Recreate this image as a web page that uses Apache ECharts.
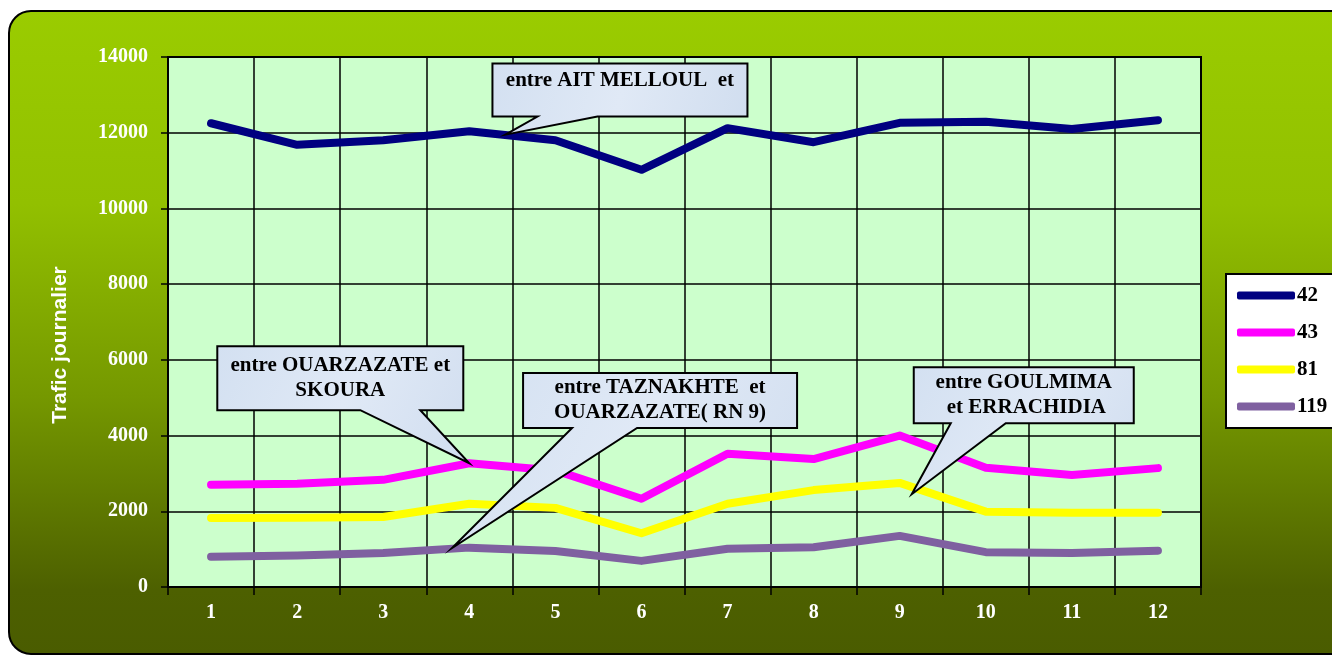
<!DOCTYPE html>
<html>
<head>
<meta charset="utf-8">
<script src="https://cdn.jsdelivr.net/npm/echarts@6/dist/echarts.min.js"></script>
<style>
html,body{margin:0;padding:0;background:#ffffff;}
#chart{width:1332px;height:655px;}
</style>
</head>
<body>
<div id="chart"></div>
<script>
// ---- data ----
var categories = ['1','2','3','4','5','6','7','8','9','10','11','12'];
var seriesNames = ['42','43','81','119'];
var s42  = [12250, 11680, 11800, 12040, 11800, 11020, 12120, 11750, 12260, 12290, 12100, 12330];
var s43  = [2700, 2730, 2830, 3270, 3080, 2330, 3520, 3380, 4000, 3150, 2960, 3140];
var s81  = [1820, 1830, 1850, 2200, 2090, 1420, 2200, 2560, 2750, 1990, 1960, 1960];
var s119 = [800, 830, 900, 1040, 950, 690, 1010, 1050, 1350, 920, 900, 960];
var yTicks = [0, 2000, 4000, 6000, 8000, 10000, 12000, 14000];
var axisTitle = 'Trafic journalier';
// callouts: text and anchor (fractional category index, value)
var calloutTexts = ['entre AIT MELLOUL  et', 'entre OUARZAZATE et\nSKOURA', 'entre TAZNAKHTE  et\nOUARZAZATE( RN 9)', 'entre GOULMIMA\n et ERRACHIDIA'];
var calloutAnchors = [[3.42, 11950], [3, 3270], [2.8, 1030], [8.14, 2450]];

var colors = ['#000080', '#ff00ff', '#ffff00', '#7f60a0'];
var values = [s42, s43, s81, s119];
var serif = '"Times New Roman", "Liberation Serif", serif';
var sans = 'Arial, "Liberation Sans", sans-serif';

var chart = echarts.init(document.getElementById('chart'), null, {renderer: 'canvas'});

var bgGraphic = {
  type: 'rect', id: 'bg', z: -10, silent: true,
  shape: {x: 9, y: 11, width: 1345, height: 643, r: 22},
  style: {
    fill: new echarts.graphic.LinearGradient(0, 0, 0, 1, [
      {offset: 0, color: '#9acc00'},
      {offset: 0.3, color: '#92c000'},
      {offset: 0.6, color: '#759800'},
      {offset: 0.9, color: '#4d6000'},
      {offset: 1, color: '#4a5c00'}
    ]),
    stroke: '#000', lineWidth: 2
  }
};

var option = {
  animation: false,
  backgroundColor: '#ffffff',
  grid: {left: 168, right: 131, top: 57, bottom: 68, show: true, backgroundColor: '#ccffcc', borderColor: '#000', borderWidth: 2},
  legend: {
    data: seriesNames, orient: 'vertical', left: 1226, top: 274,
    backgroundColor: '#ffffff', borderColor: '#000', borderWidth: 2,
    padding: [11, 40, 11, 11], itemGap: 16,
    itemWidth: 58, itemHeight: 8, icon: 'roundRect',
    textStyle: {color: '#000', fontFamily: serif, fontWeight: 'bold', fontSize: 21, padding: [0,0,0,-3]}
  },
  xAxis: {
    type: 'category', data: categories, boundaryGap: true,
    axisLine: {lineStyle: {color: '#000', width: 2}},
    axisTick: {show: true, length: 8, alignWithLabel: false, lineStyle: {color: '#000', width: 1.5}},
    axisLabel: {color: '#fff', fontFamily: serif, fontWeight: 'bold', fontSize: 20, margin: 16},
    splitLine: {show: true, lineStyle: {color: '#000', width: 1.5}}
  },
  yAxis: {
    type: 'value', min: 0, max: 14000, interval: 2000,
    name: axisTitle, nameLocation: 'middle', nameGap: 97,
    nameTextStyle: {color: '#fff', fontFamily: sans, fontWeight: 'bold', fontSize: 21, padding: [0, 0, 0, -46]},
    axisLine: {show: true, lineStyle: {color: '#000', width: 2}},
    axisTick: {show: true, length: 7, lineStyle: {color: '#000', width: 1.5}},
    axisLabel: {color: '#fff', fontFamily: serif, fontWeight: 'bold', fontSize: 20, margin: 20,
      formatter: function (v) { return String(v); }},
    splitLine: {show: true, lineStyle: {color: '#000', width: 1.5}}
  },
  series: seriesNames.map(function (n, i) {
    return {
      name: n, type: 'line', data: values[i], showSymbol: false, symbol: 'none',
      color: colors[i],
      lineStyle: {color: colors[i], width: 8, cap: 'round', join: 'round'},
      z: 3 + (3 - i)
    };
  }),
  graphic: [bgGraphic]
};
chart.setOption(option);

function toPx(idx, val) {
  var i0 = Math.floor(idx), i1 = Math.min(i0 + 1, categories.length - 1);
  var p0 = chart.convertToPixel({gridIndex: 0}, [i0, val]);
  var p1 = chart.convertToPixel({gridIndex: 0}, [i1, val]);
  var f = idx - i0;
  return [p0[0] + (p1[0] - p0[0]) * f, p0[1]];
}

// box geometry relative to tip: [dxLeft, dyTop, width, height, tailL, tailR] (pixels)
var boxGeom = [
  [-13, -71, 255, 53, 32, 92],
  [-252, -117, 246, 64, -109, -49],
  [71, -175, 274, 55, 120, 185],
  [2, -127, 220, 56, 39, 94]
];
var lineCounts = calloutTexts.map(function (t) { return t.split('\n').length; });

var graphics = [bgGraphic];
calloutTexts.forEach(function (txt, k) {
  var tip = toPx(calloutAnchors[k][0], calloutAnchors[k][1]);
  var g = boxGeom[k];
  var L = tip[0] + g[0], T = tip[1] + g[1], R = L + g[2], B = T + g[3];
  var pts = [[L, T], [R, T], [R, B], [tip[0] + g[5], B], [tip[0], tip[1]], [tip[0] + g[4], B], [L, B]];
  graphics.push({
    type: 'polygon', z: 100, silent: true,
    shape: {points: pts},
    style: {
      fill: new echarts.graphic.LinearGradient(0, 0, 1, 1, [
        {offset: 0, color: '#d3e0f1'}, {offset: 0.5, color: '#e0e9f6'}, {offset: 1, color: '#d0ddef'}
      ]),
      stroke: '#000', lineWidth: 2
    }
  });
  var cy = lineCounts[k] === 1 ? T + 17 : (T + B) / 2;
  graphics.push({
    type: 'text', z: 101, silent: true,
    x: (L + R) / 2, y: cy,
    style: {
      text: txt, fill: '#000', font: 'bold 21px ' + serif,
      textAlign: 'center', textVerticalAlign: 'middle', lineHeight: 25
    }
  });
});
chart.setOption({graphic: graphics}, {replaceMerge: ['graphic']});
</script>
</body>
</html>
